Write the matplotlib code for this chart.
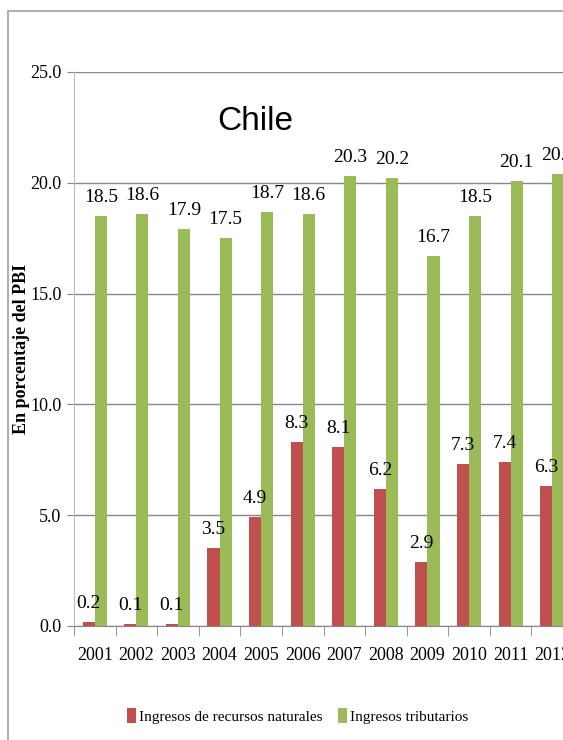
import numpy as np
import matplotlib.pyplot as plt
from matplotlib.patches import Rectangle

years = ["2001", "2002", "2003", "2004", "2005", "2006",
         "2007", "2008", "2009", "2010", "2011", "2012"]
naturales = [0.2, 0.1, 0.1, 3.5, 4.9, 8.3, 8.1, 6.2, 2.9, 7.3, 7.4, 6.3]
tributarios = [18.5, 18.6, 17.9, 17.5, 18.7, 18.6, 20.3, 20.2, 16.7, 18.5, 20.1, 20.4]
yticks = [0, 5, 10, 15, 20, 25]

red = "#C0504D"
green = "#9BBB59"
serif = ["Liberation Serif", "DejaVu Serif"]

fig = plt.figure(figsize=(5.63, 7.40), dpi=100)
# frame of the original chart (right and bottom sides fall outside)
fig.patches.append(Rectangle((8 / 563, -0.1), 1.2, 0.1 + (740 - 11) / 740,
                             transform=fig.transFigure, fill=False,
                             edgecolor="#a0a0a0", linewidth=1.2))

ax = fig.add_axes([74 / 563, 114 / 740, 499 / 563, 554 / 740])
x = np.arange(len(years))
w = 0.29
b1 = ax.bar(x - w / 2, naturales, w, color=red, label="Ingresos de recursos naturales", zorder=3)
b2 = ax.bar(x + w / 2, tributarios, w, color=green, label="Ingresos tributarios", zorder=3)

for xi, v in zip(x, naturales):
    ax.text(xi - w / 2, v + 0.45, f"{v:.1f}", ha="center", va="bottom",
            fontsize=14, family=serif, clip_on=False)
for xi, v in zip(x, tributarios):
    ax.text(xi + w / 2, v + 0.45, f"{v:.1f}", ha="center", va="bottom",
            fontsize=14, family=serif, clip_on=False)

ax.set_xlim(-0.5, len(years) - 0.5)
ax.set_ylim(0, 25)
ax.set_yticks(yticks)
ax.set_yticklabels([f"{t:.1f}" for t in yticks], family=serif, fontsize=13)
ax.set_xticks(x)
ax.set_xticklabels(years, family=serif, fontsize=13)
ax.set_xticks(np.arange(len(years) + 1) - 0.5, minor=True)
ax.tick_params(axis="x", which="major", length=0, pad=15)
ax.tick_params(axis="x", which="minor", length=7, color="#868686")
ax.tick_params(axis="y", length=5, color="#868686", pad=4)

ax.grid(axis="y", color="#868686", linewidth=1, zorder=0)
for s in ["top", "right"]:
    ax.spines[s].set_visible(False)
ax.spines["left"].set_color("#bdbdbd")
ax.spines["bottom"].set_color("#868686")

ax.set_ylabel("En porcentaje del PBI", family=serif, fontsize=13, fontweight="bold")
ax.yaxis.set_label_coords(-0.088, 0.5)
fig.text(255 / 563, 1 - 121 / 740, "Chile", ha="center", va="center",
         fontsize=24, family="Liberation Sans")

fig.legend(handles=[b1, b2], loc="center", bbox_to_anchor=(298 / 563, 1 - 716 / 740),
           ncol=2, frameon=False, prop={"family": serif, "size": 11},
           handlelength=0.6, handleheight=1.1, handletextpad=0.2, columnspacing=1.0)

fig.savefig("out.png", dpi=100)
